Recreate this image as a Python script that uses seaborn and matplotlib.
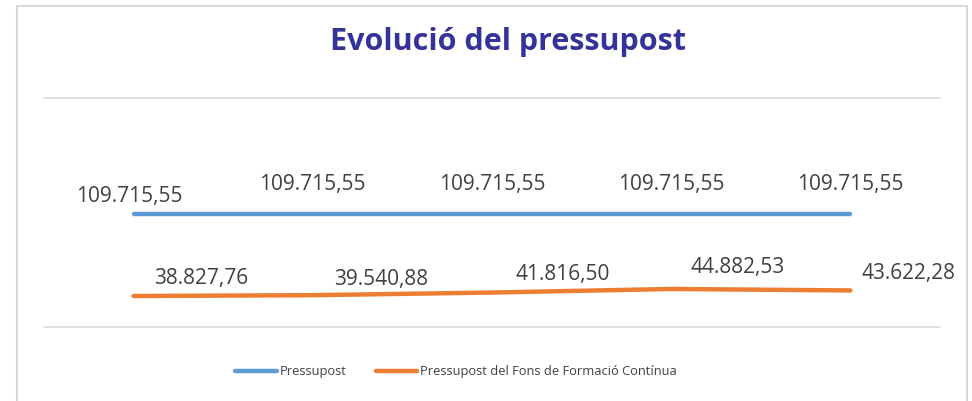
import pandas as pd
import seaborn as sns
from matplotlib import pyplot as plt
from matplotlib.patches import Rectangle

sns.set_theme(style="white")
plt.rcParams['font.family'] = ['Open Sans', 'DejaVu Sans']

# dades
periodes = [0, 1, 2, 3, 4]
pressupost = [109715.55, 109715.55, 109715.55, 109715.55, 109715.55]
fons_formacio = [38827.76, 39540.88, 41816.50, 44882.53, 43622.28]
series = ['Pressupost', 'Pressupost del Fons de Formació Contínua']

df = pd.DataFrame({
    'periode': periodes * 2,
    'valor': pressupost + fons_formacio,
    'serie': [series[0]] * len(periodes) + [series[1]] * len(periodes),
})

def fmt(v):
    # format catala: 109.715,55
    return f"{v:,.2f}".replace(",", "X").replace(".", ",").replace("X", ".")

fig = plt.figure(figsize=(9.72, 4.01), dpi=100)
ax = fig.add_axes([44/972, 1-327/401, (940-44)/972, (327-98)/401])

colors = {series[0]: '#5B9BD5', series[1]: '#ED7D31'}
sns.lineplot(data=df, x='periode', y='valor', hue='serie', palette=colors,
             linewidth=3.2, ax=ax, legend=False,
             solid_capstyle='round', solid_joinstyle='round')

ax.set_xlim(-0.5, 4.5)
ax.set_ylim(12200, 209000)
ax.set_xticks([])
ax.set_yticks([])
ax.set_xlabel('')
ax.set_ylabel('')
for s in ax.spines.values():
    s.set_visible(False)
ax.axhline(209000, color='#D9D9D9', lw=1.2, clip_on=False)
ax.axhline(12200, color='#D9D9D9', lw=1.2, clip_on=False)

# etiquetes de dades
off_blau = [(-4, 17.5), (0, 29.5), (0, 29.5), (0, 29.5), (0, 29.5)]
off_taronja = [(68, 18), (68, 16), (71, 18), (66, 21), (58, 17)]
for x, v, o in zip(periodes, pressupost, off_blau):
    ax.annotate(fmt(v), (x, v), xytext=(o[0]*0.72, o[1]*0.72), textcoords='offset points',
                ha='center', va='center', fontsize=15, color='#404040')
for x, v, o in zip(periodes, fons_formacio, off_taronja):
    ax.annotate(fmt(v), (x, v), xytext=(o[0]*0.72, o[1]*0.72), textcoords='offset points',
                ha='center', va='center', fontsize=15, color='#404040',
                annotation_clip=False)

fig.text(0.523, 1-42/401, 'Evolució del pressupost', ha='center', va='center',
         fontsize=22, fontweight='bold', color='#333399')

handles = [plt.Line2D([], [], color=colors[s], lw=3.2, solid_capstyle='round') for s in series]
fig.legend(handles, series, loc='center', bbox_to_anchor=(456/972, 1-372/401),
           ncol=2, frameon=False, fontsize=9.3, handlelength=3.2, handletextpad=0.2,
           columnspacing=2.3, labelcolor='#404040')

fig.patches.append(Rectangle((17/972, -0.02), (967-17)/972, 1.02-6/401,
                             transform=fig.transFigure, fill=False,
                             edgecolor='#D9D9D9', lw=1.5))

fig.savefig('out.png', dpi=100)
